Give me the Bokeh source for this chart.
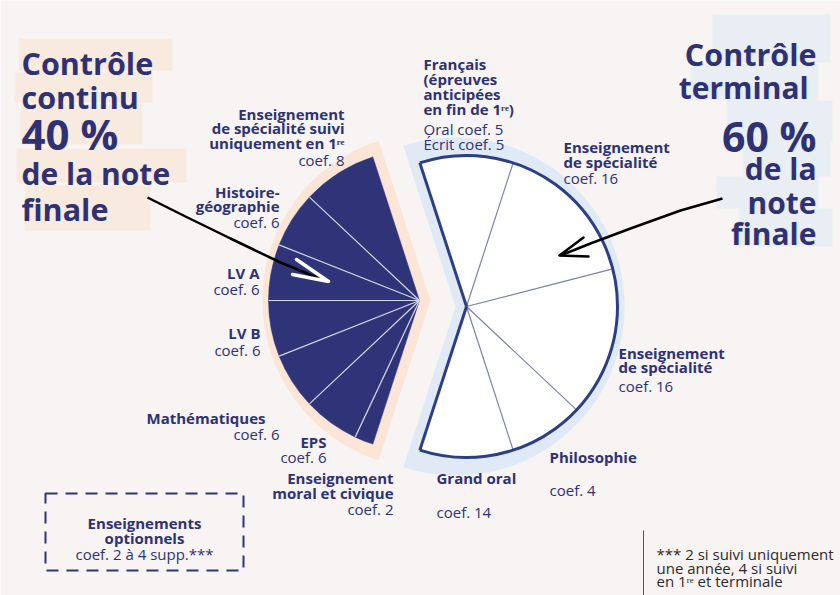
import numpy as np
from bokeh.plotting import figure
from bokeh.models import Range1d
from bokeh.core.properties import value
from bokeh.embed import file_html
from bokeh.resources import INLINE

# ---------------- data ----------------
left_subjects = ["Enseignement de spécialité suivi uniquement en 1re", "Histoire-géographie",
                 "LV A", "LV B", "Mathématiques", "EPS", "Enseignement moral et civique"]
left_coefs = [8, 6, 6, 6, 6, 6, 2]          # contrôle continu (40 %)
right_subjects = ["Français", "Enseignement de spécialité", "Enseignement de spécialité",
                  "Philosophie", "Grand oral"]
right_coefs = [10, 16, 16, 8, 10]           # wedges as drawn (contrôle terminal, 60 %)
right_coef_labels = ["Oral coef. 5 / Écrit coef. 5", "coef. 16", "coef. 16", "coef. 4", "coef. 14"]

NAVY = "#2f3378"
TXT = "#2e3274"
BG = "#f7f4f3"
FONT = value("Open Sans")

W, H = 840, 595
p = figure(width=W, height=H, output_backend="svg", toolbar_location=None,
           x_range=Range1d(0, 840), y_range=Range1d(0, 595),
           x_axis_location=None, y_axis_location=None, min_border=0)
p.grid.visible = False
p.outline_line_color = None
p.background_fill_color = BG
p.border_fill_color = BG

def Y(py):
    return 595 - py

DEG = 360.0 / 100.0   # degrees per coefficient point
R = 151

# ---------- title brush highlights ----------
peach = "#fce2d0"
blue = "#d9e7f6"
for (x0, x1, y0, y1) in [(18, 172, 38, 70), (14, 152, 72, 102), (20, 142, 104, 144),
                         (16, 186, 148, 182), (24, 150, 185, 230)]:
    p.quad(left=x0, right=x1, top=Y(y0), bottom=Y(y1), fill_color=peach, fill_alpha=0.55, line_color=None)
for (x0, x1, y0, y1) in [(712, 830, 14, 62), (690, 818, 64, 100), (726, 832, 100, 142),
                         (742, 830, 142, 176), (716, 818, 176, 208), (738, 832, 208, 246)]:
    p.quad(left=x0, right=x1, top=Y(y0), bottom=Y(y1), fill_color=blue, fill_alpha=0.5, line_color=None)

# ---------- pie geometry ----------
LCX, LCY = 419, Y(300)
RCX, RCY = 466, Y(306)
start = 108.0

lc = np.concatenate([[0], np.cumsum(left_coefs)])
l_ang = start + lc * DEG                      # anticlockwise from 108°
rc = np.concatenate([[0], np.cumsum(right_coefs)])
r_ang = start - rc * DEG                      # clockwise from 108°

# halos
p.wedge(x=LCX + 11, y=LCY, radius=168, start_angle=np.radians(l_ang[0]), end_angle=np.radians(l_ang[-1]),
        fill_color=peach, fill_alpha=0.85, line_color=None)
p.wedge(x=RCX - 11, y=RCY, radius=169, start_angle=np.radians(r_ang[-1]), end_angle=np.radians(r_ang[0]),
        fill_color=blue, fill_alpha=0.8, line_color=None)

# left wedges
p.wedge(x=LCX, y=LCY, radius=R, start_angle=np.radians(l_ang[:-1]), end_angle=np.radians(l_ang[1:]),
        fill_color=NAVY, line_color=NAVY, line_width=0.5)
inner = np.radians(l_ang[1:-1])
p.segment(x0=LCX, y0=LCY, x1=LCX + R * np.cos(inner), y1=LCY + R * np.sin(inner),
          line_color="#d3d6ea", line_width=1.2)

# right wedges
p.wedge(x=RCX, y=RCY, radius=R, start_angle=np.radians(r_ang[1:]), end_angle=np.radians(r_ang[:-1]),
        fill_color="white", line_color=None)
inner_r = np.radians(r_ang[1:-1])
p.segment(x0=RCX, y0=RCY, x1=RCX + R * np.cos(inner_r), y1=RCY + R * np.sin(inner_r),
          line_color="#7c83a8", line_width=1.2)
edge = np.radians([r_ang[0], r_ang[-1]])
p.segment(x0=RCX, y0=RCY, x1=RCX + R * np.cos(edge), y1=RCY + R * np.sin(edge),
          line_color="#2c3f86", line_width=3)
p.arc(x=RCX, y=RCY, radius=R, start_angle=np.radians(r_ang[-1]), end_angle=np.radians(r_ang[0]),
      line_color="#2c3f86", line_width=3)

# ---------- arrows ----------
p.line(x=[147, 185, 230, 280, 326], y=[Y(197), Y(216), Y(238), Y(262), Y(281)],
       line_color="black", line_width=2.5)
p.line(x=[296, 328, 292], y=[Y(259), Y(281), Y(274)], line_color="white", line_width=3.5,
       line_cap="round", line_join="round")
p.line(x=[722, 680, 630, 590, 560], y=[Y(198), Y(210), Y(228), Y(243), Y(255)],
       line_color="black", line_width=2.5)
p.line(x=[583, 559, 588], y=[Y(237), Y(255), Y(256)], line_color="black", line_width=2.5,
       line_cap="round", line_join="round")

# ---------- text helper ----------
def txt(x, py, s, size=15, bold=True, align="left", color=TXT):
    p.text(x=[x], y=[Y(py)], text=[s], text_font=FONT, text_font_size=f"{size}px",
           text_font_style="bold" if bold else "normal", text_align=align,
           text_baseline="alphabetic", text_color=color)

# titles
for s, py, sz in [("Contrôle", 62, 30.5), ("continu", 96, 30.5), ("40 %", 133, 42),
                  ("de la note", 173, 30), ("finale", 208, 30.5)]:
    txt(21, py, s, size=sz)
for s, py, sz in [("Contrôle", 53, 30.5), ("terminal ", 87, 30), ("60 %", 135, 41),
                  ("de la", 168, 30), ("note", 202, 30), ("finale", 233, 30)]:
    txt(816, py, s, size=sz, align="right")

# left labels (right aligned)
for x, lines in [
    (344, [("Enseignement", 113, 1), ("de spécialité suivi", 127, 1), ("uniquement en 1ʳᵉ", 142, 1), ("coef. 8", 159, 0)]),
    (279, [("Histoire-", 191, 1), ("géographie", 205, 1), ("coef. 6", 221, 0)]),
    (259, [("LV A", 272, 1), ("coef. 6", 288, 0)]),
    (260, [("LV B", 332, 1), ("coef. 6", 349, 0)]),
    (265, [("Mathématiques", 417, 1)]),
    (279, [("coef. 6", 433, 0)]),
    (326, [("EPS", 441, 1), ("coef. 6", 456, 0)]),
    (393, [("Enseignement", 477, 1), ("moral et civique", 492, 1), ("coef. 2", 508, 0)]),
]:
    for s, py, b in lines:
        txt(x, py, s, bold=bool(b), align="right")

# right labels (left aligned)
for x, lines in [
    (423, [("Français", 63, 1), ("(épreuves", 78, 1), ("anticipées", 93, 1), ("en fin de 1ʳᵉ)", 108, 1),
           ("Oral coef. 5", 128, 0), ("Écrit coef. 5", 143, 0)]),
    (563, [("Enseignement", 146, 1), ("de spécialité", 161, 1), (right_coef_labels[1], 177, 0)]),
    (618, [("Enseignement", 352, 1), ("de spécialité", 366, 1), (right_coef_labels[2], 385, 0)]),
    (549, [("Philosophie", 456, 1), (right_coef_labels[3], 489, 0)]),
    (436, [("Grand oral", 477, 1), (right_coef_labels[4], 511, 0)]),
]:
    for s, py, b in lines:
        txt(x, py, s, bold=bool(b))

# dashed box
p.quad(left=45, right=243, top=Y(493), bottom=Y(570), fill_color=None, line_color=NAVY,
       line_width=2, line_dash="12 8")
txt(144, 522, "Enseignements", align="center")
txt(144, 537, "optionnels", align="center")
txt(144, 553, "coef. 2 à 4 supp.***", bold=False, align="center")

# footnote
p.segment(x0=[643], y0=[Y(530)], x1=[643], y1=[Y(595)], line_color="#555555", line_width=1)
for s, py in [("*** 2 si suivi uniquement", 553), ("une année, 4 si suivi", 567), ("en 1ʳᵉ et terminale", 580)]:
    txt(656, py, s, size=15, bold=False, color="#2a2a2a")

open("out.html", "w").write(file_html(p, INLINE))
